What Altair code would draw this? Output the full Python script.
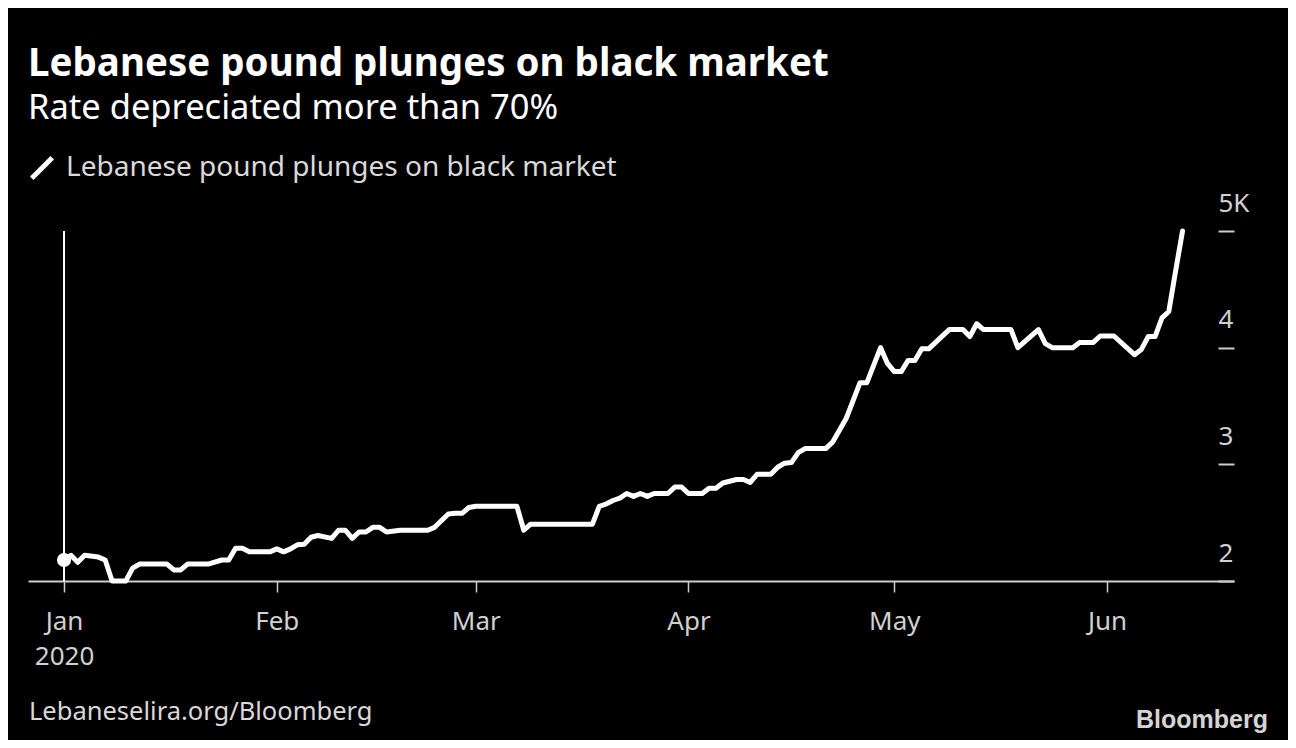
import altair as alt
import pandas as pd

# ---- data ----
dates = [
    "2020-01-01", "2020-01-02", "2020-01-03", "2020-01-04", "2020-01-06", "2020-01-07", "2020-01-08", "2020-01-10", "2020-01-11", "2020-01-12",
    "2020-01-16", "2020-01-17", "2020-01-18", "2020-01-19", "2020-01-22", "2020-01-24", "2020-01-25", "2020-01-26", "2020-01-27", "2020-01-28",
    "2020-01-31", "2020-02-01", "2020-02-02", "2020-02-03", "2020-02-04", "2020-02-05", "2020-02-06", "2020-02-07", "2020-02-09", "2020-02-10",
    "2020-02-11", "2020-02-12", "2020-02-13", "2020-02-14", "2020-02-15", "2020-02-16", "2020-02-17", "2020-02-19", "2020-02-23", "2020-02-24",
    "2020-02-26", "2020-02-27", "2020-02-28", "2020-02-29", "2020-03-01", "2020-03-07", "2020-03-08", "2020-03-09", "2020-03-18", "2020-03-19",
    "2020-03-20", "2020-03-21", "2020-03-22", "2020-03-23", "2020-03-24", "2020-03-25", "2020-03-26", "2020-03-27", "2020-03-29", "2020-03-30",
    "2020-03-31", "2020-04-01", "2020-04-03", "2020-04-04", "2020-04-05", "2020-04-06", "2020-04-08", "2020-04-09", "2020-04-10", "2020-04-11",
    "2020-04-13", "2020-04-14", "2020-04-15", "2020-04-16", "2020-04-17", "2020-04-18", "2020-04-21", "2020-04-22", "2020-04-24", "2020-04-26",
    "2020-04-27", "2020-04-29", "2020-04-30", "2020-05-01", "2020-05-02", "2020-05-03", "2020-05-04", "2020-05-05", "2020-05-06", "2020-05-09",
    "2020-05-11", "2020-05-12", "2020-05-13", "2020-05-14", "2020-05-18", "2020-05-19", "2020-05-22", "2020-05-23", "2020-05-24", "2020-05-27",
    "2020-05-28", "2020-05-30", "2020-05-31", "2020-06-02", "2020-06-05", "2020-06-06", "2020-06-07", "2020-06-08", "2020-06-09", "2020-06-10",
    "2020-06-11", "2020-06-12",
]
rates = [
    2180, 2220, 2160, 2220, 2205, 2180, 2000, 2000, 2110, 2145,
    2145, 2095, 2095, 2145, 2145, 2180, 2180, 2280, 2280, 2250,
    2250, 2275, 2250, 2275, 2310, 2315, 2375, 2390, 2365, 2435,
    2435, 2365, 2420, 2420, 2460, 2460, 2420, 2435, 2435, 2460,
    2575, 2580, 2580, 2630, 2640, 2640, 2435, 2487, 2487, 2640,
    2660, 2690, 2710, 2750, 2725, 2750, 2725, 2750, 2750, 2805,
    2805, 2750, 2750, 2795, 2795, 2840, 2870, 2870, 2845, 2915,
    2915, 2975, 3010, 3015, 3100, 3135, 3135, 3190, 3395, 3700,
    3700, 4000, 3865, 3795, 3795, 3890, 3890, 3990, 3990, 4155,
    4155, 4095, 4205, 4155, 4155, 4000, 4155, 4035, 4000, 4000,
    4045, 4045, 4100, 4100, 3940, 3985, 4095, 4095, 4255, 4310,
    4660, 5000,
]
series_name = "Lebanese pound plunges on black market"
title_text = "Lebanese pound plunges on black market"
subtitle_text = "Rate depreciated more than 70%"
source_text = "Lebaneselira.org/Bloomberg"
logo_text = "Bloomberg"
y_ticks = [2000, 3000, 4000, 5000]
y_tick_labels = ["2", "3", "4", "5K"]
x_tick_months = [1, 2, 3, 4, 5, 6]
x_tick_labels = ["Jan", "Feb", "Mar", "Apr", "May", "Jun"]
first_year_label = "2020"

FONT = "Noto Sans"

df = pd.DataFrame({"date": dates, "rate": rates, "series": series_name})
first = df.iloc[[0]]
marker = pd.DataFrame({"date": [dates[0]], "lo": [y_ticks[0]], "hi": [y_ticks[-1]]})

x_domain = [
    alt.DateTime(year=2019, month=12, date=26, hours=18, utc=True),
    alt.DateTime(year=2020, month=6, date=19, hours=12, utc=True),
]
x_values = [alt.DateTime(year=2020, month=m, date=1, utc=True) for m in x_tick_months]
month_arr = "[" + ",".join("'%s'" % s for s in x_tick_labels) + "]"
x_label_expr = (
    "utcmonth(datum.value) == 0 ? ['%s', '%s'] : %s[utcmonth(datum.value)]"
    % (x_tick_labels[0], first_year_label, month_arr)
)
y_label_expr = " : ".join(
    "datum.value == %d ? '%s'" % (v, l) for v, l in zip(y_ticks, y_tick_labels)
) + " : ''"

x_enc = alt.X(
    "date:T",
    scale=alt.Scale(type="utc", domain=x_domain),
    axis=alt.Axis(
        values=x_values,
        labelExpr=x_label_expr,
        title=None,
        grid=False,
        domainColor="#cccccc",
        domainWidth=2,
        tickColor="#cccccc",
        tickWidth=1.5,
        tickSize=11,
        labelColor="#d0d0d0",
        labelFontSize=26,
        labelFont=FONT,
        labelPadding=16,
        labelLineHeight=35,
        labelFlush=False,
        labelAlign="center",
    ),
)
y_scale = alt.Scale(domain=[y_ticks[0], y_ticks[-1]], nice=False, zero=False)
y_enc = alt.Y(
    "rate:Q",
    scale=y_scale,
    axis=alt.Axis(
        orient="right",
        values=y_ticks,
        labelExpr=y_label_expr,
        title=None,
        grid=False,
        domain=False,
        offset=-16,
        tickSize=16,
        tickWidth=2,
        tickColor="#cccccc",
        labelPadding=-16,
        labelAlign="left",
        labelBaseline="middle",
        labelOffset=-28,
        labelColor="#d0d0d0",
        labelFontSize=26,
        labelFont=FONT,
    ),
)

line = alt.Chart(df).mark_line(strokeWidth=5, strokeJoin="round", strokeCap="round").encode(
    x=x_enc,
    y=y_enc,
    color=alt.Color(
        "series:N",
        scale=alt.Scale(range=["white"]),
        legend=alt.Legend(
            orient="none",
            legendX=0,
            legendY=-77,
            title=None,
            symbolType="M-1,1L1,-1",
            symbolSize=420,
            symbolStrokeWidth=5,
            symbolStrokeColor="white",
            labelFontSize=28,
            labelColor="#d9d9d9",
            labelFont=FONT,
            labelLimit=0,
            labelOffset=10,
            padding=0,
        ),
    ),
)

start_rule = alt.Chart(marker).mark_rule(color="white", strokeWidth=2).encode(
    x="date:T", y="lo:Q", y2="hi:Q"
)

dot = alt.Chart(first).mark_circle(size=200, color="white", opacity=1).encode(
    x="date:T", y="rate:Q"
)

src = alt.Chart(pd.DataFrame({"t": [source_text]})).mark_text(
    align="left", baseline="alphabetic", fontSize=25.5, font=FONT, color="#d9d9d9"
).encode(x=alt.value(1), y=alt.value(489), text="t:N")

logo = alt.Chart(pd.DataFrame({"t": [logo_text]})).mark_text(
    align="right", baseline="alphabetic", fontSize=25, font="Liberation Sans",
    fontWeight="bold", color="#d4d4d4"
).encode(x=alt.value(1240), y=alt.value(497), text="t:N")

chart = (
    alt.layer(start_rule, line, dot, src, logo)
    .properties(
        width=1206,
        height=350,
        padding={"left": 20, "top": 223, "right": 54, "bottom": 159},
        autosize=alt.AutoSizeParams(type="none"),
        background="black",
        title=alt.TitleParams(
            text=title_text,
            subtitle=subtitle_text,
            anchor="start",
            frame="group",
            font=FONT,
            fontSize=38.5,
            fontWeight="bold",
            color="white",
            subtitleFont=FONT,
            subtitleFontSize=34.5,
            subtitleColor="white",
            subtitlePadding=7,
            offset=28,
        ),
    )
    .configure_view(stroke=None)
)

chart.save("out.html", embed_options={"renderer": "svg", "actions": False})
